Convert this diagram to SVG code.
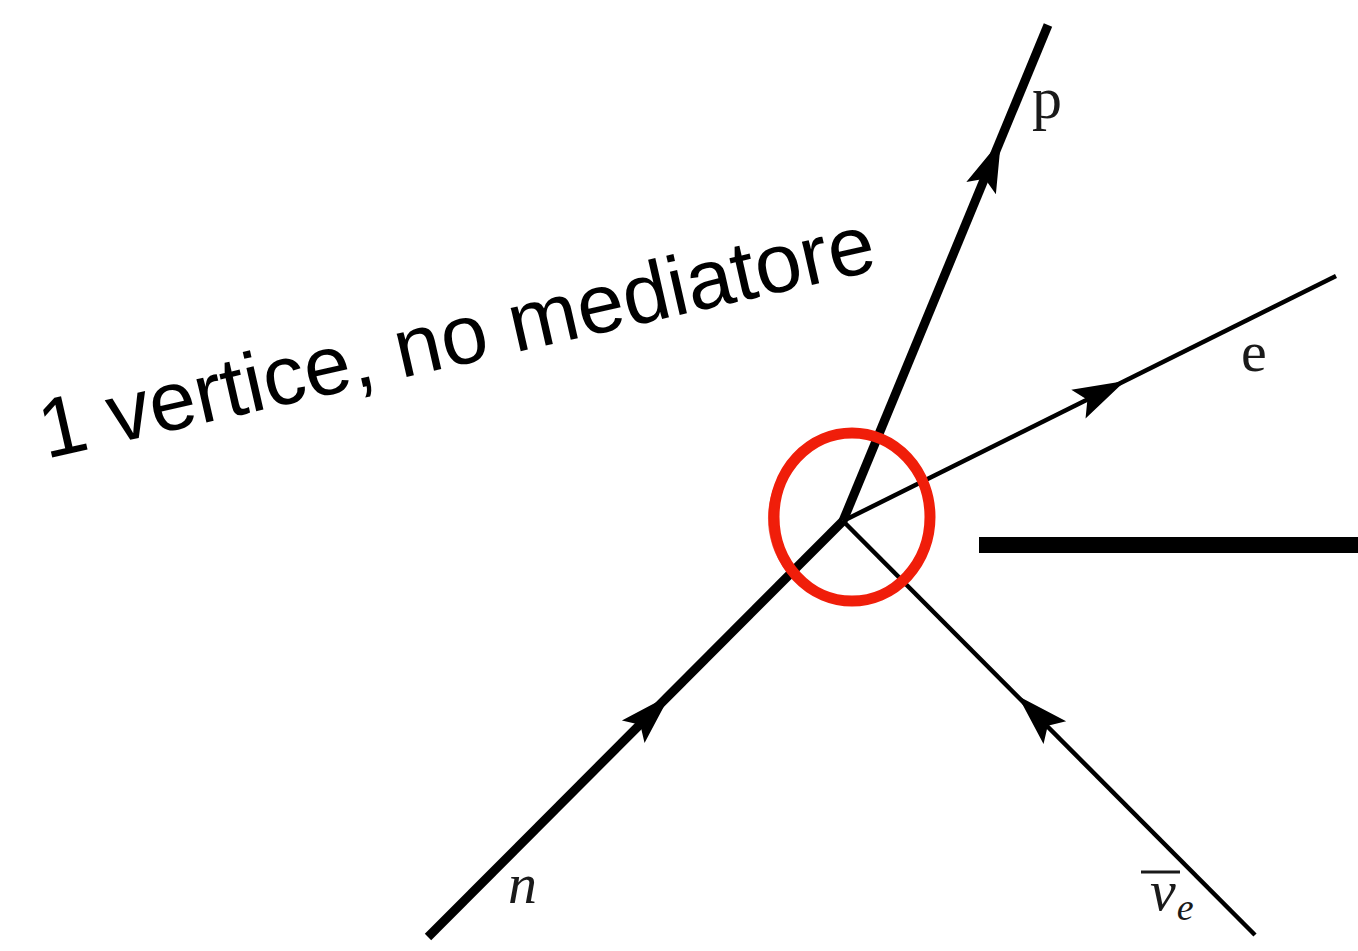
<svg xmlns="http://www.w3.org/2000/svg" width="1358" height="951" viewBox="0 0 1358 951">
  <style>
    .thick { stroke: #000; stroke-width: 9; stroke-linecap: butt; fill: none; }
    .thin { stroke: #000; stroke-width: 4.5; stroke-linecap: butt; fill: none; }
    .lbl { font-family: "Liberation Serif", "Times New Roman", serif; fill: #1a1a1a; }
    .it { font-style: italic; }
    .title { font-family: "Liberation Sans", Arial, Helvetica, sans-serif; font-size: 84px; fill: #000; }
  </style>
  <defs>
    <path id="ah" d="M0,0 L-52,-16 L-42,0 L-52,16 Z" fill="#000"/>
  </defs>
  <rect width="1358" height="951" fill="#fff"/>

  <g id="connectors">
    <line class="thick" x1="428" y1="937" x2="843" y2="521"/>
    <line class="thick" x1="843" y1="521" x2="1048" y2="25"/>
    <line class="thin" x1="843" y1="521" x2="1336" y2="276"/>
    <line class="thin" x1="1255" y1="935" x2="843" y2="521"/>
    <use href="#ah" transform="translate(670,695) rotate(-45)"/>
    <use href="#ah" transform="translate(1001,140) rotate(-67.5)"/>
    <use href="#ah" transform="translate(1125,381) rotate(-26.4)"/>
    <use href="#ah" transform="translate(1018,696) rotate(-135.1)"/>
  </g>

  <g id="label-p"><text class="lbl" x="1032" y="118" font-size="60">p</text></g>
  <g id="label-e"><text class="lbl" x="1241" y="371" font-size="58">e</text></g>
  <g id="label-n"><text class="lbl it" x="508" y="903" font-size="58">n</text></g>
  <g id="label-nubar">
    <line x1="1141" y1="872" x2="1180" y2="872" stroke="#1a1a1a" stroke-width="3"/>
    <text class="lbl it" x="1150" y="910" font-size="58">ν<tspan font-size="38" dx="1" dy="10">e</tspan></text>
  </g>

  <g id="vertex">
    <ellipse cx="852" cy="517" rx="78" ry="84" fill="none" stroke="#f01e0a" stroke-width="11"/>
    <ellipse cx="850" cy="519" rx="81" ry="83" fill="none" stroke="#f01e0a" stroke-width="2" opacity="0.7" transform="rotate(-8 850 519)"/>
  </g>

  <g id="title">
    <text class="title" transform="translate(46,459) rotate(-12.8)">1 vertice, no mediatore</text>
  </g>

  <g id="bar">
    <rect x="979" y="537" width="379" height="16" fill="#000"/>
  </g>
</svg>
